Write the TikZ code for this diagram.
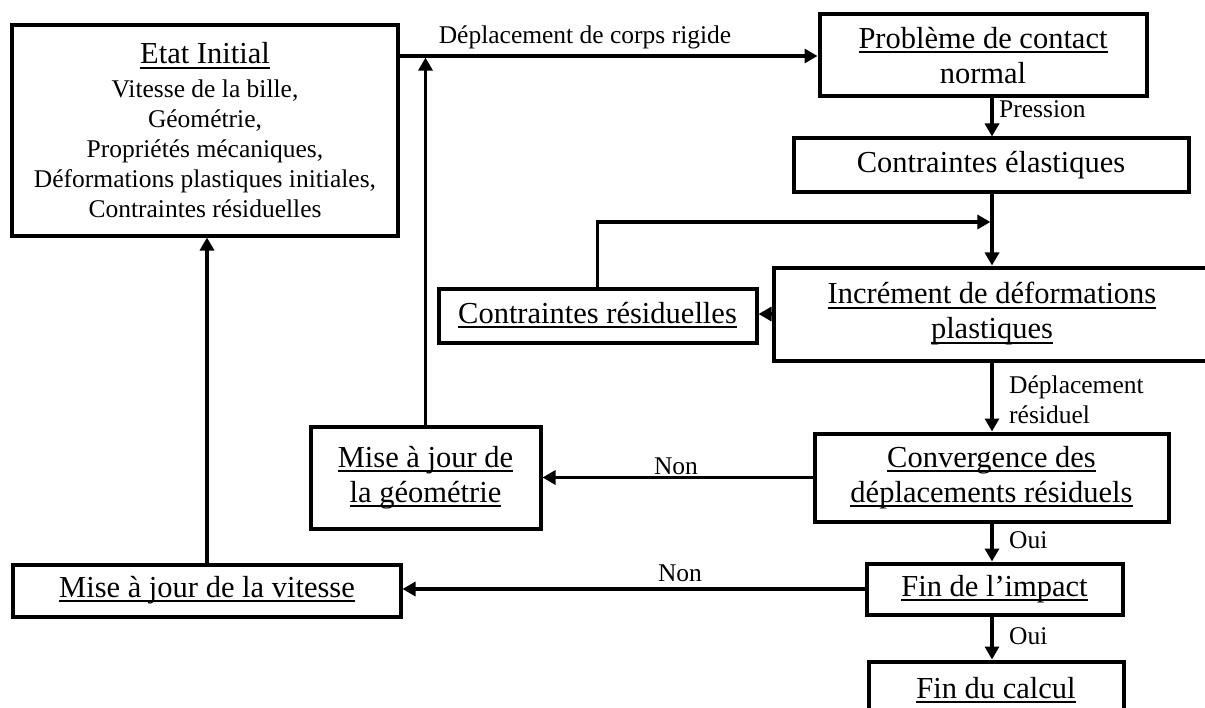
\documentclass[tikz,border=0pt]{standalone}
\usepackage{fontspec}
\setmainfont{Liberation Serif}
\usetikzlibrary{arrows.meta,calc}
\newcommand\bxfont{\fontsize{30.5bp}{35bp}\selectfont}
\newcommand\lbfont{\fontsize{25.5bp}{30bp}\selectfont}
\newcommand\ulbox[1]{\setbox0=\hbox{#1}\rlap{\rule[-0.15em]{\wd0}{0.065em}}\box0}
\begin{document}
\begin{tikzpicture}[x=1bp,y=-1bp,
 blk/.style={draw, line width=4bp, inner sep=0pt, align=center, font=\bxfont},
 arr/.style={line width=3.2bp, -{Triangle[length=13bp,width=14bp]}},
 lbl/.style={font=\lbfont, inner sep=0pt, align=left}]
\useasboundingbox (0,0) rectangle (1205,708);
\fill[white] (0,0) rectangle (1205,708);
\clip (0,0) rectangle (1205,708);
% boxes
\node[blk, font=\lbfont, minimum width=385bp, minimum height=210bp] (etat) at (205,130.5)
  {{\bxfont\ulbox{Etat Initial}}\\[4bp]Vitesse de la bille,\\Géométrie,\\Propriétés mécaniques,\\Déformations plastiques initiales,\\Contraintes résiduelles};
\node[blk, minimum width=327bp, minimum height=82bp] (prob) at (983,55.5) {\ulbox{Problème de contact}\\normal};
\node[blk, minimum width=395bp, minimum height=53bp] (elas) at (991,165) {Contraintes élastiques};
\node[blk, minimum width=437bp, minimum height=93bp] (incr) at (992,314) {\ulbox{Incrément de déformations}\\\ulbox{plastiques}};
\node[blk, minimum width=318bp, minimum height=54bp] (cres) at (597.5,315.5) {\ulbox{Contraintes résiduelles}};
\node[blk, minimum width=354bp, minimum height=88bp] (conv) at (991.5,477.5) {\ulbox{Convergence des}\\\ulbox{déplacements résiduels}};
\node[blk, minimum width=230bp, minimum height=102bp] (geom) at (425.5,477.5) {\ulbox{Mise à jour de}\\\ulbox{la géométrie}};
\node[blk, minimum width=256bp, minimum height=51bp] (fimp) at (994.5,589) {\ulbox{Fin de l’impact}};
\node[blk, minimum width=387bp, minimum height=52bp] (vit) at (207,590.5) {\ulbox{Mise à jour de la vitesse}};
\node[blk, minimum width=255bp, minimum height=57bp] (fcal) at (996,690) {\ulbox{Fin du calcul}};
% helper coordinates
\coordinate (cx) at (992,0);
\coordinate (yA) at (0,56);
\coordinate (yB) at (0,222);
% connectors
\draw[arr] (etat.east |- yA) -- (prob.west |- yA);
\draw[arr, shorten >=1.6bp] (geom.north) -- (geom.north |- yA);
\draw[arr] (prob.south -| cx) -- (elas.north -| cx);
\draw[arr] (elas.south -| cx) -- (incr.north -| cx);
\draw[arr, shorten >=1.6bp] (cres.north) |- (cx |- yB);
\draw[arr] (incr.west) -- (incr.west -| cres.east);
\draw[arr] (incr.south -| cx) -- (conv.north -| cx);
\draw[arr] (conv.west) -- (conv.west -| geom.east);
\draw[arr] (conv.south -| cx) -- (fimp.north -| cx);
\draw[arr] (fimp.west) -- (fimp.west -| vit.east);
\draw[arr] (vit.north) -- (etat.south -| vit.north);
\draw[arr] (fimp.south -| cx) -- (fcal.north -| cx);
% labels
\node[lbl] (l1) at (585,37) {Déplacement de corps rigide};
\node[lbl, anchor=west] (l2) at (999,109) {Pression};
\node[lbl, anchor=west] (l3) at (1009,400) {Déplacement\\résiduel};
\node[lbl] (l4) at (676,466) {Non};
\node[lbl, anchor=west] (l5) at (1009,540) {Oui};
\node[lbl] (l6) at (680,573) {Non};
\node[lbl, anchor=west] (l7) at (1009,636) {Oui};
\end{tikzpicture}
\end{document}
